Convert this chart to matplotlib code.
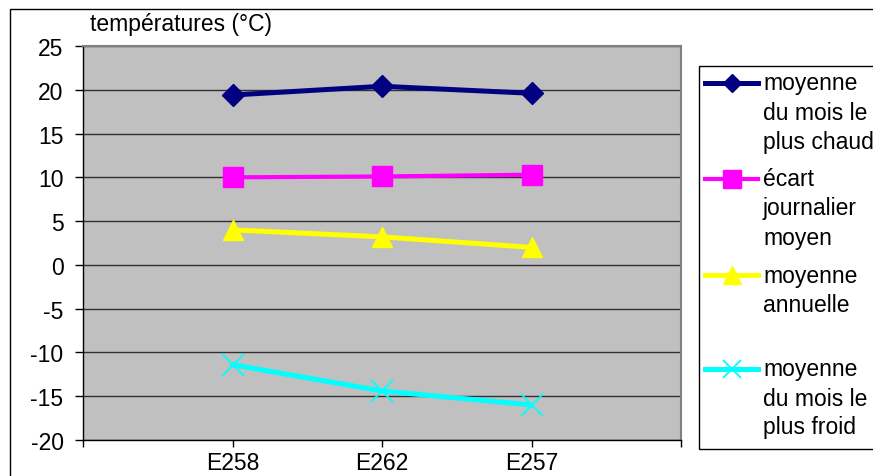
import matplotlib
matplotlib.use('Agg')
import matplotlib.pyplot as plt
from matplotlib.patches import Rectangle
from matplotlib.lines import Line2D

plt.rcParams['font.family'] = ['Liberation Sans', 'DejaVu Sans']
plt.rcParams['axes.unicode_minus'] = False

# --- data ---
stations = ['', 'E258', 'E262', 'E257', '']
xpos = [1, 2, 3]
warm_month = [19.4, 20.4, 19.6]     # moyenne du mois le plus chaud
daily_range = [10.0, 10.1, 10.3]    # écart journalier moyen
annual_mean = [4.0, 3.2, 2.0]       # moyenne annuelle
cold_month = [-11.4, -14.4, -16.0]  # moyenne du mois le plus froid

labels = [['moyenne', 'du mois le', 'plus chaud'],
          ['écart', 'journalier', 'moyen'],
          ['moyenne', 'annuelle'],
          ['moyenne', 'du mois le', 'plus froid']]

fs = 16.5
W, H = 873, 477
fig = plt.figure(figsize=(W/100, H/100), dpi=100)

# outer chart frame (cut off at right / bottom like the reference)
fig.patches.append(Rectangle((10/W, -0.1), 1.2, 1.1 - 9.5/H, transform=fig.transFigure,
                             fill=False, ec='black', lw=1.0, zorder=0))

ax = fig.add_axes([83/W, 1-441/H, (681-83)/W, (441-47)/H])
ax.set_facecolor('#C0C0C0')

l1, = ax.plot(xpos, warm_month, color='#000080', lw=3.6, marker='D', ms=11, zorder=5)
l2, = ax.plot(xpos, daily_range, color='#FF00FF', lw=3.0, marker='s', ms=15, zorder=5)
l3, = ax.plot(xpos, annual_mean, color='#FFFF00', lw=3.6, marker='^', ms=15, zorder=5)
l4, = ax.plot(xpos, cold_month, color='#00FFFF', lw=3.6, marker='x', ms=16, mew=1.3, zorder=5)

ax.set_xlim(0, 4)
ax.set_xticks(range(len(stations)))
ax.set_xticklabels(stations, fontsize=fs)
ax.set_ylim(-20, 25)
ax.set_yticks(range(-20, 26, 5))
ax.tick_params(axis='y', labelsize=fs, length=6, width=1, pad=8, direction='out')
ax.tick_params(axis='x', labelsize=fs, length=5, width=1, pad=3, direction='out')
ax.yaxis.grid(True, color='#303030', lw=1.0)
ax.set_axisbelow(True)

for s in ['top', 'right']:
    ax.spines[s].set_color('#808080')
    ax.spines[s].set_linewidth(1.5)
for s in ['left', 'bottom']:
    ax.spines[s].set_color('black')
    ax.spines[s].set_linewidth(1.0)

fig.text(90/W, 1-25/H, 'températures (°C)', fontsize=fs, va='center', ha='left')

##-- legend drawn by hand: handle beside the first line of each label --##
fig.patches.append(Rectangle((699/W, 1-450/H), 0.2, (450-67)/H, transform=fig.transFigure,
                             fc='white', ec='black', lw=1.0))
entry_y = [84, 180, 276, 370]
for ln, lab, yy in zip([l1, l2, l3, l4], labels, entry_y):
    fy = 1 - yy/H
    fig.lines.append(Line2D([705/W, 758/W], [fy, fy], transform=fig.transFigure,
                            color=ln.get_color(), lw=ln.get_linewidth(),
                            marker=ln.get_marker(), markevery=[1],
                            ms=ln.get_markersize()*0.85, mew=ln.get_markeredgewidth()))
    fig.lines[-1].set_xdata([705/W, 731.5/W, 758/W])
    fig.lines[-1].set_ydata([fy, fy, fy])
    for k, txt in enumerate(lab):
        fig.text(763/W, 1 - (yy + 29*k)/H, txt, fontsize=fs, va='center', ha='left')

fig.savefig('out.png', dpi=100)
